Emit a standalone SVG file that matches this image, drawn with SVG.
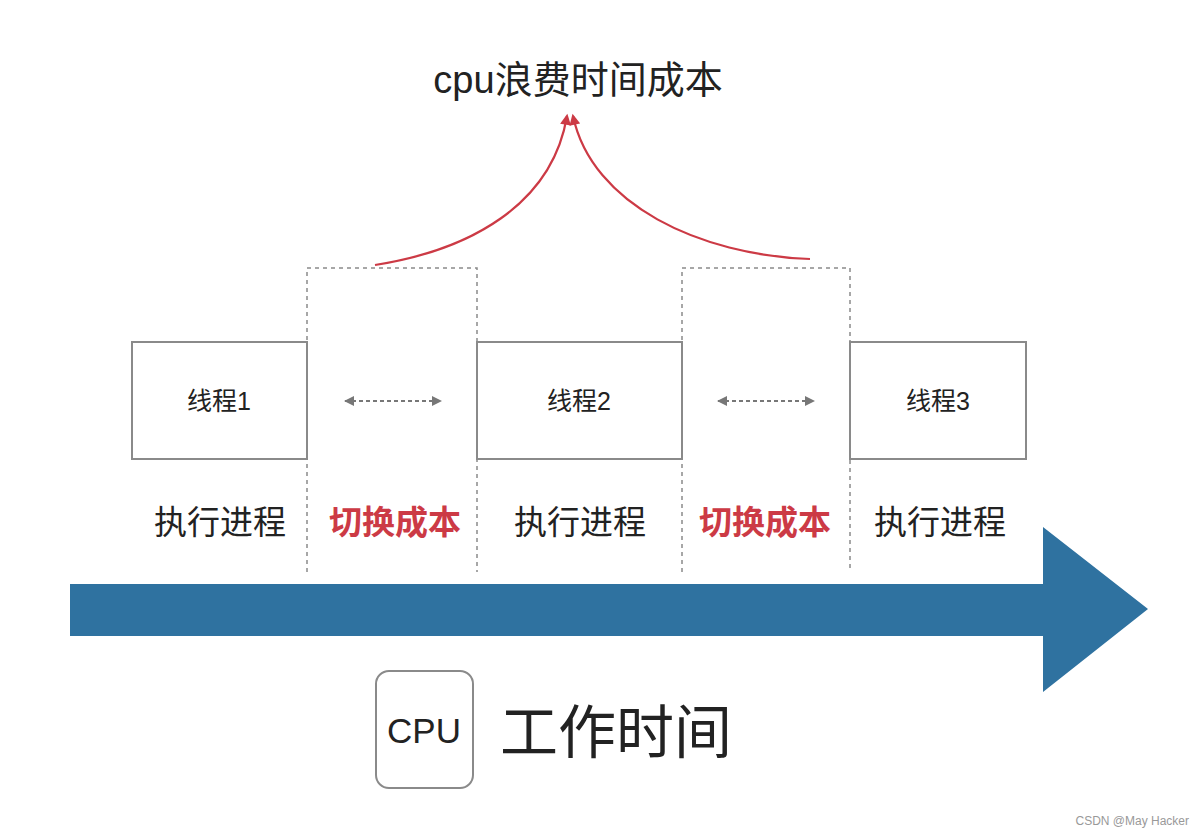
<svg xmlns="http://www.w3.org/2000/svg" width="1200" height="833" viewBox="0 0 1200 833">
<defs>
<style>
.t{font-family:"Liberation Sans","Noto Sans CJK SC",sans-serif;fill:#222}
.box{fill:#fff;stroke:#8a8a8a;stroke-width:2}
.dash{fill:none;stroke:#8a8a8a;stroke-width:1.5;stroke-dasharray:4,4}
.red{fill:none;stroke:#cc3a45;stroke-width:2.2}
.dbl{fill:none;stroke:#777;stroke-width:2;stroke-dasharray:4,3}
</style>
<marker id="ra" viewBox="0 0 10 10" refX="8" refY="5" markerWidth="12" markerHeight="11" orient="auto" markerUnits="userSpaceOnUse">
<path d="M0,0 L10,5 L0,10 z" fill="#cc3a45"/>
</marker>
<marker id="ga" viewBox="0 0 10 10" refX="9" refY="5" markerWidth="10" markerHeight="10" orient="auto-start-reverse" markerUnits="userSpaceOnUse">
<path d="M0,0 L10,5 L0,10 z" fill="#777"/>
</marker>
</defs>
<rect width="1200" height="833" fill="#fff"/>
<g id="title"><text class="t" x="578" y="93" font-size="38" text-anchor="middle">cpu浪费时间成本</text></g>
<g id="connectors">
<path class="red" d="M375,265 C470,250 552,205 567,116" marker-end="url(#ra)"/>
<path class="red" d="M810,259 C700,255 592,205 573,116" marker-end="url(#ra)"/>
<path class="dash" d="M307,572 V268 H477 V572"/>
<path class="dash" d="M682,572 V268 H850 V572"/>
<path class="dbl" d="M345,401 H441" marker-start="url(#ga)" marker-end="url(#ga)"/>
<path class="dbl" d="M718,401 H814" marker-start="url(#ga)" marker-end="url(#ga)"/>
</g>
<g id="thread1"><rect class="box" x="132" y="342" width="175" height="117"/><text class="t" x="219" y="410" font-size="25" text-anchor="middle">线程1</text></g>
<g id="thread2"><rect class="box" x="477" y="342" width="205" height="117"/><text class="t" x="579" y="410" font-size="25" text-anchor="middle">线程2</text></g>
<g id="thread3"><rect class="box" x="850" y="342" width="176" height="117"/><text class="t" x="938" y="410" font-size="25" text-anchor="middle">线程3</text></g>
<g id="labels">
<text class="t" x="220" y="534" font-size="33" text-anchor="middle">执行进程</text>
<text class="t" x="395" y="534" font-size="33" text-anchor="middle" font-weight="bold" style="fill:#cc3a45">切换成本</text>
<text class="t" x="580" y="534" font-size="33" text-anchor="middle">执行进程</text>
<text class="t" x="765" y="534" font-size="33" text-anchor="middle" font-weight="bold" style="fill:#cc3a45">切换成本</text>
<text class="t" x="940" y="534" font-size="33" text-anchor="middle">执行进程</text>
</g>
<g id="timeline"><path d="M70,584 H1043 V527 L1148,609 L1043,692 V636 H70 z" fill="#2f72a0"/></g>
<g id="cpu"><rect x="376" y="671" width="97" height="117" rx="13" fill="#fff" stroke="#8a8a8a" stroke-width="2"/><text class="t" x="424" y="743" font-size="35" text-anchor="middle">CPU</text></g>
<g id="worktime"><text class="t" x="500" y="753" font-size="58">工作时间</text></g>
<text x="1189" y="825" font-size="12" text-anchor="end" font-family="Liberation Sans,sans-serif" fill="#999">CSDN @May Hacker</text>
</svg>
